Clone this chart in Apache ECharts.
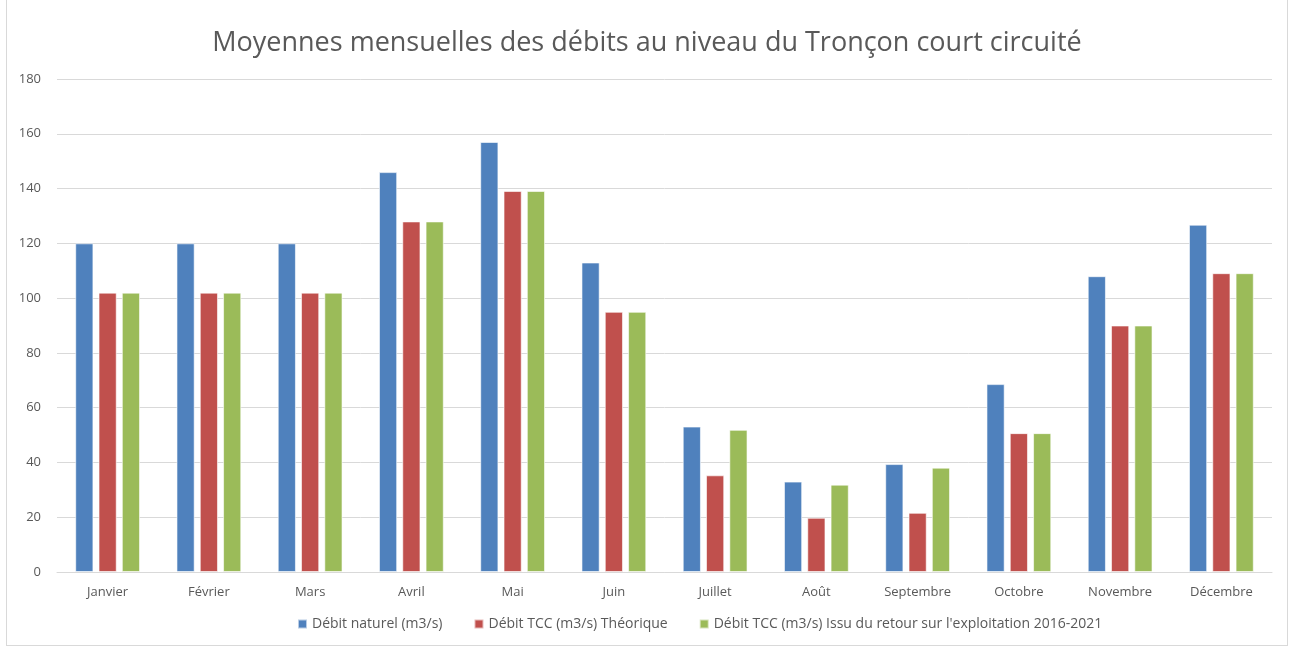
<!DOCTYPE html>
<html>
<head>
<meta charset="utf-8">
<script src="https://cdn.jsdelivr.net/npm/echarts@6/dist/echarts.min.js"></script>
<style>
  html, body { margin: 0; padding: 0; background: #fff; }
  #main { position: absolute; left: 6px; top: 0; width: 1282px; height: 646px; border: 1px solid #d9d9d9; border-top: none; box-sizing: border-box; }
</style>
</head>
<body>
<div id="main"></div>
<script>
// 数据
const months = ["Janvier", "Février", "Mars", "Avril", "Mai", "Juin", "Juillet", "Août", "Septembre", "Octobre", "Novembre", "Décembre"];
const debitNaturel = [120, 120, 120, 146, 157, 113, 53.1, 33, 39.4, 68.6, 108, 126.8];
const debitTheorique = [102, 102, 102, 128, 139.1, 95, 35.3, 19.8, 21.6, 50.7, 90, 109.1];
const debitRetour = [102, 102, 102, 128, 139.1, 95, 51.9, 31.9, 38.1, 50.7, 90, 109.1];
const seriesNames = [
  "Débit naturel (m3/s)",
  "Débit TCC (m3/s) Théorique",
  "Débit TCC (m3/s) Issu du retour sur l'exploitation 2016-2021",
];

const myChart = echarts.init(document.querySelector("#main"));
const font = "'Open Sans', 'Noto Sans', sans-serif";
const option = {
  animation: false,
  color: ["#4F81BD", "#C0504D", "#9BBB59"],
  textStyle: { fontFamily: font },
  title: {
    text: "Moyennes mensuelles des débits au niveau du Tronçon court circuité",
    left: "center",
    top: 25,
    textStyle: { fontSize: 27, fontWeight: "normal", color: "#595959", fontFamily: font },
  },
  grid: { left: 50, right: 15, top: 79, bottom: 73 },
  legend: {
    bottom: 9,
    left: 285,
    itemWidth: 9,
    itemHeight: 9,
    itemGap: 31,
    icon: "rect",
    textStyle: { fontSize: 14, color: "#595959", fontFamily: font },
  },
  xAxis: {
    type: "category",
    data: months,
    axisLine: { lineStyle: { color: "#d9d9d9" } },
    axisTick: { show: false },
    axisLabel: { color: "#595959", fontSize: 13, margin: 14 },
  },
  yAxis: {
    type: "value",
    min: 0,
    max: 180,
    interval: 20,
    axisLabel: { color: "#595959", fontSize: 13, margin: 16 },
    splitLine: { lineStyle: { color: "#d9d9d9" } },
  },
  series: [debitNaturel, debitTheorique, debitRetour].map((data, i) => ({
    name: seriesNames[i],
    type: "bar",
    data: data,
    barGap: "28%",
    barCategoryGap: "36%",
    itemStyle: { borderColor: "rgba(255,255,255,0.6)", borderWidth: 1 },
  })),
};
myChart.setOption(option);
</script>
</body>
</html>
